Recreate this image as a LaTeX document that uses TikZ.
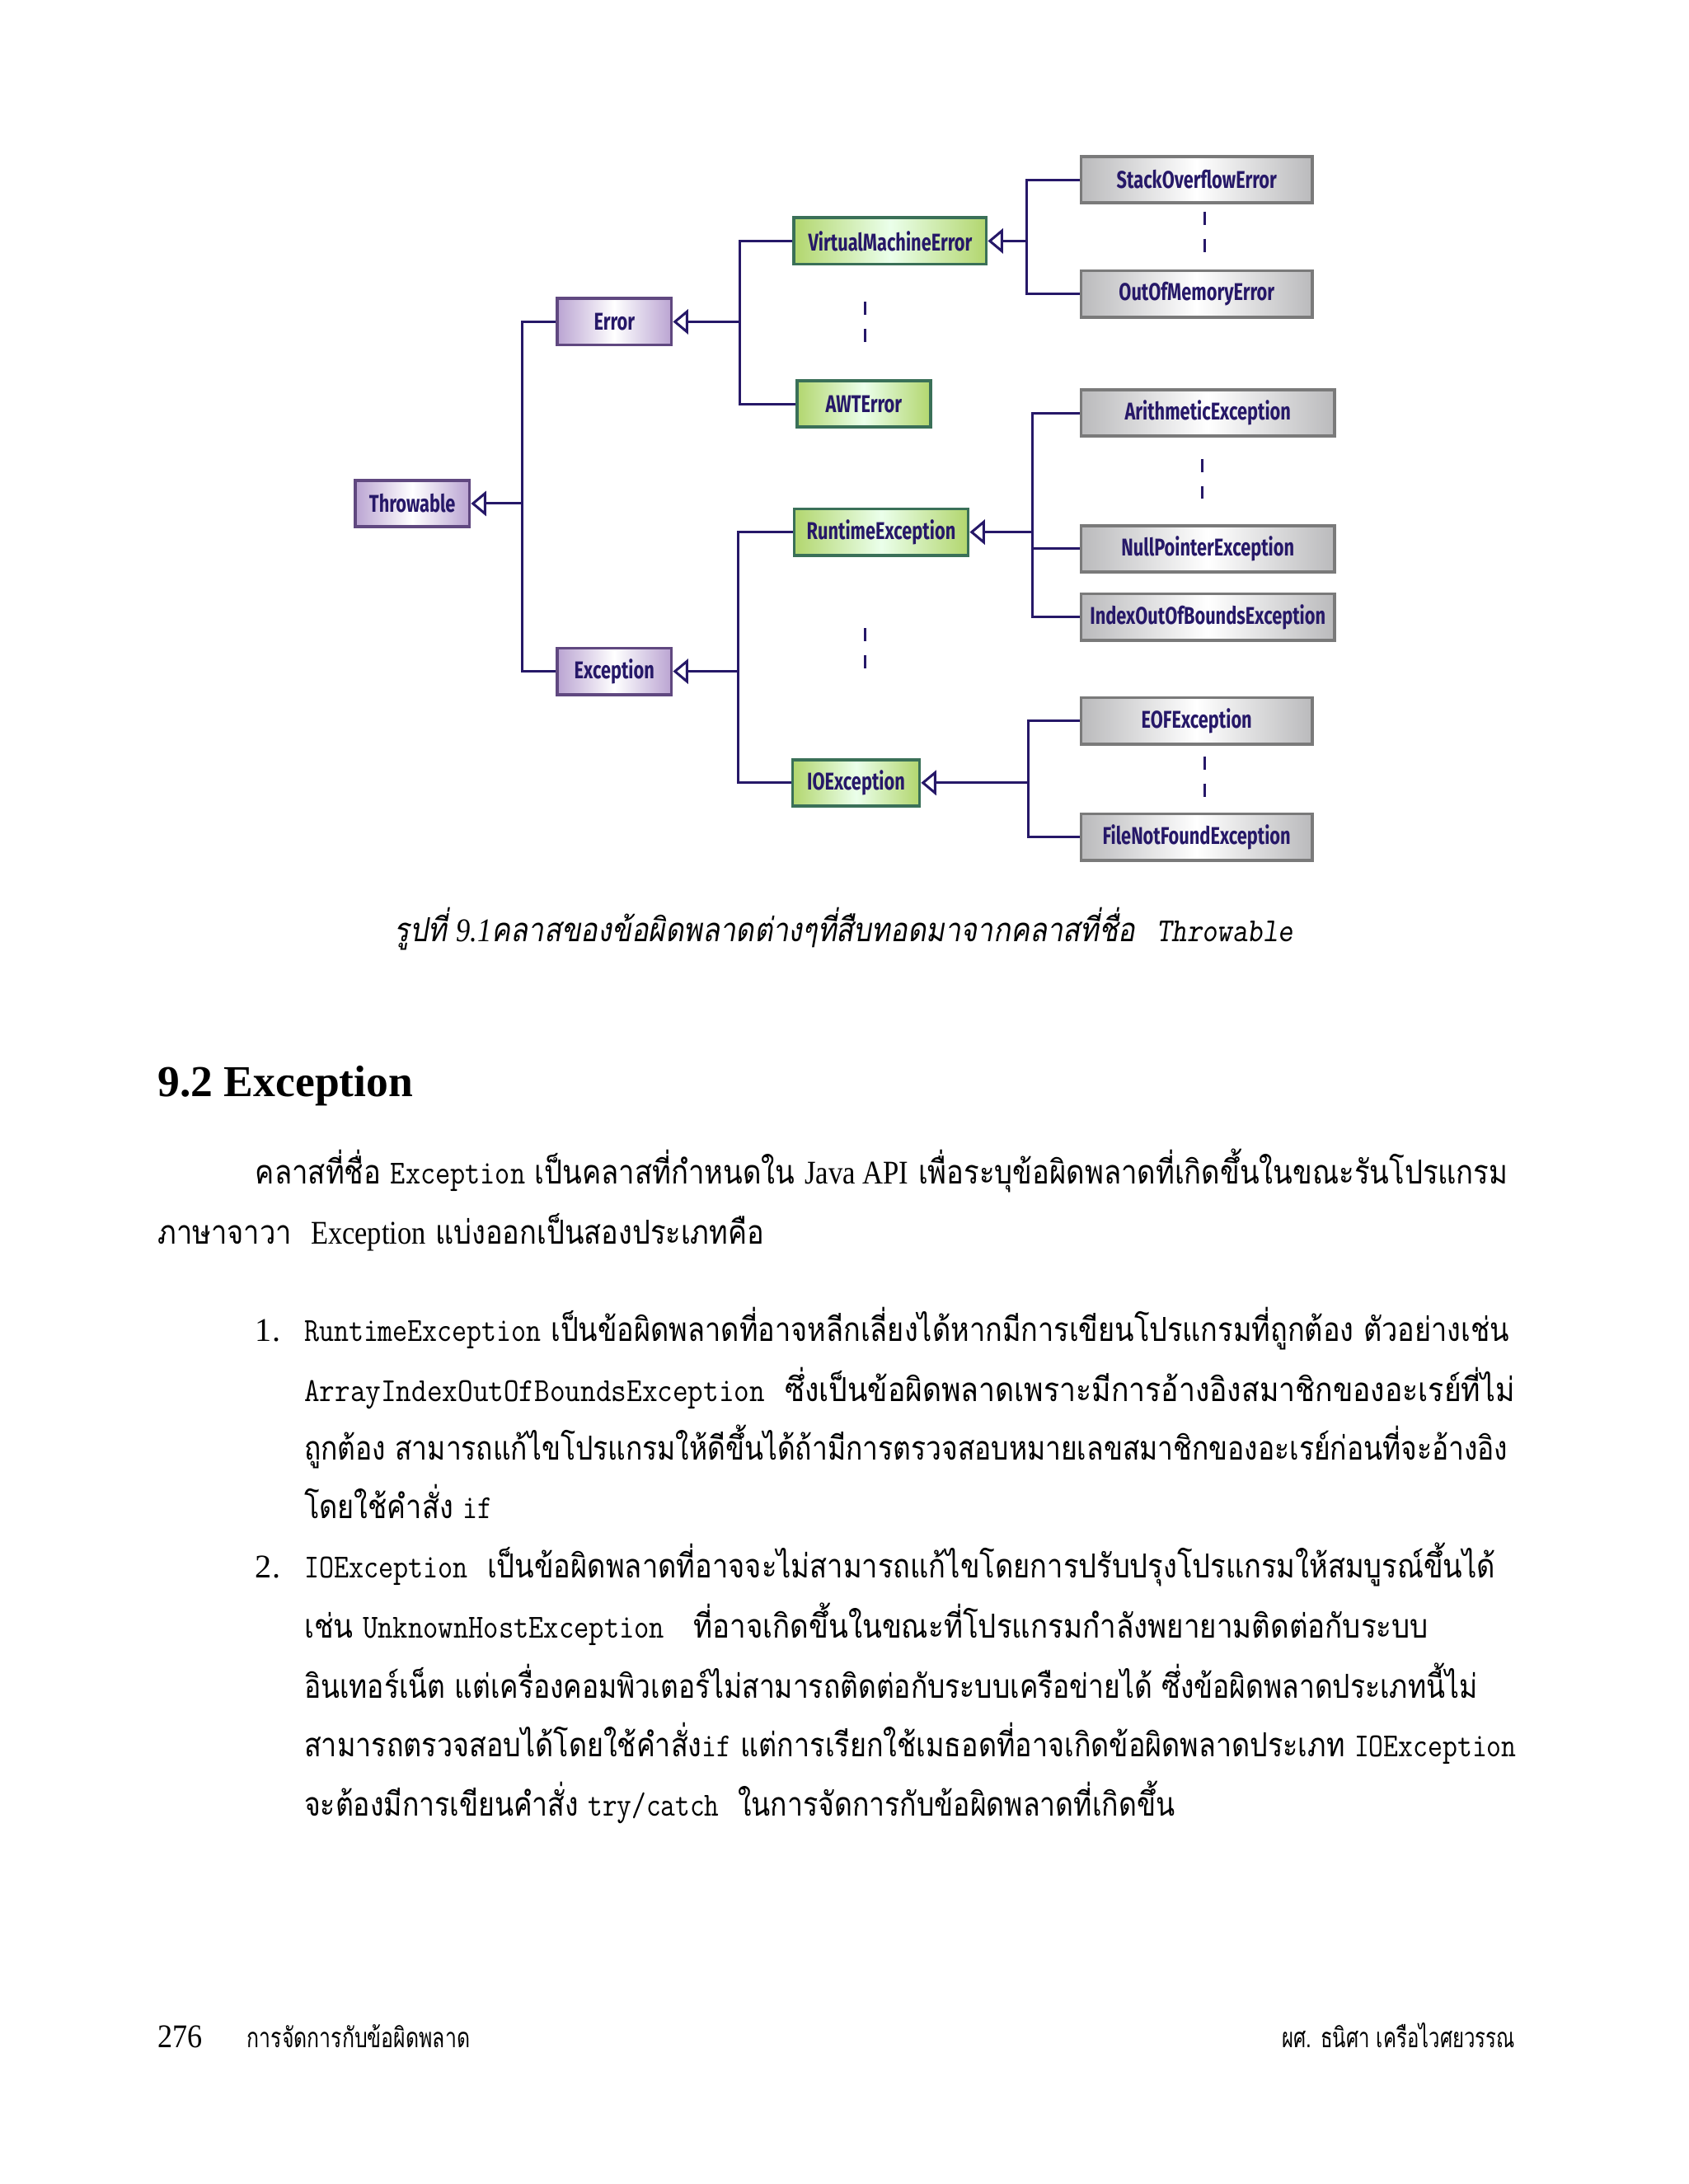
\documentclass[tikz,border=0pt]{standalone}
\usepackage{fontspec}
\usepackage{graphicx}
\setmainfont{Liberation Serif}
\newfontfamily\thfont[Script=Thai]{Loma}
\newfontfamily\thslant[Script=Thai,FakeSlant=0.2]{Loma}
\newfontfamily\boxfont[FakeStretch=0.74]{Fira Sans}
\usetikzlibrary{arrows.meta}

\definecolor{ink}{RGB}{38,24,104}
\definecolor{purpleedge}{RGB}{96,72,128}
\definecolor{purplefill}{RGB}{186,164,210}
\definecolor{greenedge}{RGB}{58,112,88}
\definecolor{greenfill}{RGB}{178,214,110}
\definecolor{grayedge}{RGB}{122,122,122}
\definecolor{grayfill}{RGB}{186,186,188}

% one printed line, squeezed to the width it has on the page
\newcommand\fitto[2]{\resizebox{#1}{\height}{#2}}
\newcommand\jcode[1]{{\ttfamily\fontsize{12.2}{14}\selectfont #1}}
\newcommand\latn[1]{{\rmfamily #1}}

\tikzset{
  cls/.style={draw, line width=1.1pt, minimum height=16.8pt, inner sep=0pt,
    text=ink, font=\boxfont\bfseries\fontsize{8.8}{10}\selectfont},
  pcls/.style={cls, draw=purpleedge, left color=purplefill, right color=purplefill, middle color=white},
  gcls/.style={cls, draw=greenedge, left color=greenfill, right color=greenfill, middle color=white!92!green},
  scls/.style={cls, draw=grayedge, left color=grayfill, right color=grayfill, middle color=white},
  conn/.style={draw=ink, line width=0.9pt},
  extends/.style={-{Triangle[open, length=5.5pt, width=9pt]}},
  gap/.style={conn, dash pattern=on 4.8pt off 5pt},
  txt/.style={anchor=base west, inner sep=0pt, font=\thfont\fontsize{12}{14}\selectfont}
}

\begin{document}
\begin{tikzpicture}[x=0.505pt, y={(0,-0.505pt)}]
\useasboundingbox[fill=white] (0,0) rectangle (1212,1568);

% classes
\node[pcls, minimum width=41.4pt] (throwable) at (296,361.5) {Throwable};
\node[pcls, minimum width=41.4pt] (error) at (441,231) {Error};
\node[pcls, minimum width=41.4pt] (exception) at (441,482) {Exception};

\node[gcls, minimum width=69.7pt] (vme) at (639,173) {VirtualMachineError};
\node[gcls, minimum width=48.5pt] (awt) at (620,290) {AWTError};
\node[gcls, minimum width=63.1pt] (runtime) at (632.5,382) {RuntimeException};
\node[gcls, minimum width=46pt] (io) at (614.5,562) {IOException};

\node[scls, minimum width=83.8pt] (stack) at (859,129) {StackOverflowError};
\node[scls, minimum width=83.8pt] (memory) at (859,211) {OutOfMemoryError};
\node[scls, minimum width=91.9pt] (arith) at (867,296.5) {ArithmeticException};
\node[scls, minimum width=91.9pt] (null) at (867,394) {NullPointerException};
\node[scls, minimum width=91.9pt] (index) at (867,443) {IndexOutOfBoundsException};
\node[scls, minimum width=83.8pt] (eof) at (859,517.5) {EOFException};
\node[scls, minimum width=83.8pt] (fnf) at (859,601) {FileNotFoundException};

% buses
\coordinate (b1) at (375,0);
\coordinate (b2) at (531,0);
\coordinate (b3) at (530,0);
\coordinate (b4) at (737,0);
\coordinate (b5) at (741,0);
\coordinate (b6) at (738,0);

\draw[conn] (error.west) -- (error.west -| b1) -- (exception.west -| b1) -- (exception.west);
\draw[conn, extends] (throwable.east -| b1) -- (throwable.east);

\draw[conn] (vme.west) -- (vme.west -| b2) -- (awt.west -| b2) -- (awt.west);
\draw[conn, extends] (error.east -| b2) -- (error.east);

\draw[conn] (runtime.west) -- (runtime.west -| b3) -- (io.west -| b3) -- (io.west);
\draw[conn, extends] (exception.east -| b3) -- (exception.east);

\draw[conn] (stack.west) -- (stack.west -| b4) -- (memory.west -| b4) -- (memory.west);
\draw[conn, extends] (vme.east -| b4) -- (vme.east);

\draw[conn] (arith.west) -- (arith.west -| b5) -- (index.west -| b5) -- (index.west);
\draw[conn] (null.west -| b5) -- (null.west);
\draw[conn, extends] (runtime.east -| b5) -- (runtime.east);

\draw[conn] (eof.west) -- (eof.west -| b6) -- (fnf.west -| b6) -- (fnf.west);
\draw[conn, extends] (io.east -| b6) -- (io.east);

% elided siblings
\draw[gap] (621,216.5) -- (621,245.5);
\draw[gap] (865,152) -- (865,181.5);
\draw[gap] (863,329.5) -- (863,358);
\draw[gap] (621,451) -- (621,480);
\draw[gap] (865,543) -- (865,572);

% caption
\node[txt] (caption) at (283,676) {\fitto{325.7pt}{\thslant\fontsize{12}{14}\selectfont รูปที่ {\rmfamily\itshape 9.1}คลาสของข้อผิดพลาดต่างๆที่สืบทอดมาจากคลาสที่ชื่อ\hspace{9pt}{\ttfamily\slshape\fontsize{12.2}{14}\selectfont Throwable}}};

% section
\node[anchor=base west, inner sep=0pt, font=\bfseries\fontsize{16}{19}\selectfont] (head) at (113,787) {9.2 Exception};

\node[txt] (p1) at (183,850) {\fitto{454pt}{คลาสที่ชื่อ \jcode{Exception} เป็นคลาสที่กำหนดใน \latn{Java API} เพื่อระบุข้อผิดพลาดที่เกิดขึ้นในขณะรันโปรแกรม}};
\node[txt] (p2) at (113,893) {\fitto{219.7pt}{ภาษาจาวา\ \ \latn{Exception} แบ่งออกเป็นสองประเภทคือ}};

\node[txt, font=\rmfamily\fontsize{12}{14}\selectfont] (n1) at (183,963) {1.};
\node[txt] (i1a) at (218,963) {\fitto{436.8pt}{\jcode{RuntimeException} เป็นข้อผิดพลาดที่อาจหลีกเลี่ยงได้หากมีการเขียนโปรแกรมที่ถูกต้อง ตัวอย่างเช่น}};
\node[txt] (i1b) at (218,1006) {\fitto{438.8pt}{\jcode{ArrayIndexOutOfBoundsException}\ \ ซึ่งเป็นข้อผิดพลาดเพราะมีการอ้างอิงสมาชิกของอะเรย์ที่ไม่}};
\node[txt] (i1c) at (218,1048) {\fitto{436.3pt}{ถูกต้อง สามารถแก้ไขโปรแกรมให้ดีขึ้นได้ถ้ามีการตรวจสอบหมายเลขสมาชิกของอะเรย์ก่อนที่จะอ้างอิง}};
\node[txt] (i1d) at (218,1090) {\fitto{68.2pt}{โดยใช้คำสั่ง \jcode{if}}};

\node[txt, font=\rmfamily\fontsize{12}{14}\selectfont] (n2) at (183,1133) {2.};
\node[txt] (i2a) at (218,1133) {\fitto{431.8pt}{\jcode{IOException}\ \ เป็นข้อผิดพลาดที่อาจจะไม่สามารถแก้ไขโดยการปรับปรุงโปรแกรมให้สมบูรณ์ขึ้นได้}};
\node[txt] (i2b) at (218,1176) {\fitto{407.5pt}{เช่น \jcode{UnknownHostException}\ \ \ ที่อาจเกิดขึ้นในขณะที่โปรแกรมกำลังพยายามติดต่อกับระบบ}};
\node[txt] (i2c) at (218,1219) {\fitto{425.2pt}{อินเทอร์เน็ต แต่เครื่องคอมพิวเตอร์ไม่สามารถติดต่อกับระบบเครือข่ายได้ ซึ่งข้อผิดพลาดประเภทนี้ไม่}};
\node[txt] (i2d) at (218,1261) {\fitto{439.4pt}{สามารถตรวจสอบได้โดยใช้คำสั่ง\jcode{if} แต่การเรียกใช้เมธอดที่อาจเกิดข้อผิดพลาดประเภท \jcode{IOException}}};
\node[txt] (i2e) at (218,1304) {\fitto{315.6pt}{จะต้องมีการเขียนคำสั่ง \jcode{try/catch}\ \ ในการจัดการกับข้อผิดพลาดที่เกิดขึ้น}};

% footer
\node[txt, font=\rmfamily\fontsize{12}{14}\selectfont] (page) at (113,1470) {\fitto{16.2pt}{276}};
\node[txt, font=\thfont\fontsize{10}{12}\selectfont] (chapter) at (177,1470) {\fitto{80.8pt}{การจัดการกับข้อผิดพลาด}};
\node[txt, font=\thfont\fontsize{10}{12}\selectfont] (author) at (920,1470) {\fitto{84.3pt}{ผศ. ธนิศา เครือไวศยวรรณ}};

\end{tikzpicture}
\end{document}
